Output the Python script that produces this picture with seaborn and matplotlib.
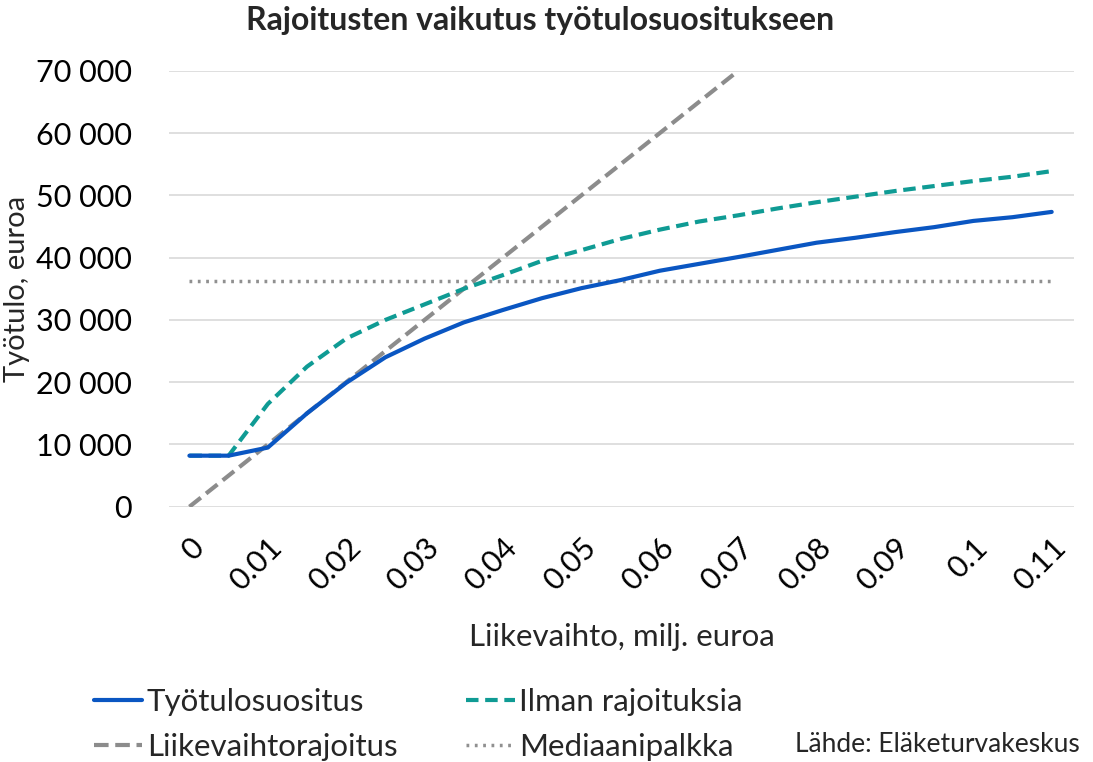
import numpy as np
import matplotlib.pyplot as plt
import matplotlib.ticker as mticker
import pandas as pd
import seaborn as sns

sns.set_theme(style='white')
plt.rcParams['font.family'] = ['Lato', 'DejaVu Sans']

# liikevaihto, milj. euroa
x = [0, 0.005, 0.01, 0.015, 0.02, 0.025, 0.03, 0.035, 0.04, 0.045, 0.05, 0.055,
     0.06, 0.065, 0.07, 0.075, 0.08, 0.085, 0.09, 0.095, 0.1, 0.105, 0.11]
tyotulosuositus = [8200, 8200, 9500, 15000, 19900, 24000, 27000, 29600, 31600, 33500,
                   35100, 36400, 37900, 39000, 40100, 41250, 42400, 43200, 44100, 44900,
                   45900, 46500, 47350]
ilman = [8200, 8200, 16500, 22500, 27000, 30000, 32500, 35000, 37200, 39500, 41200,
         43000, 44500, 45800, 46800, 47900, 48900, 49800, 50700, 51500, 52300, 53000, 53900]
x_raja = [0, 0.005, 0.01, 0.015, 0.02, 0.025, 0.03, 0.035, 0.04, 0.045, 0.05, 0.055,
          0.06, 0.065, 0.07]
liikevaihtoraja = [0, 5000, 10000, 15000, 20000, 25000, 30000, 35000, 40000, 45000,
                   50000, 55000, 60000, 65000, 70000]
mediaani = 36300
xticks = [0, 0.01, 0.02, 0.03, 0.04, 0.05, 0.06, 0.07, 0.08, 0.09, 0.1, 0.11]
xticklabels = ['0', '0.01', '0.02', '0.03', '0.04', '0.05', '0.06', '0.07', '0.08',
               '0.09', '0.1', '0.11']

fig, ax = plt.subplots(figsize=(10.93, 7.62), dpi=100)
fig.subplots_adjust(left=0.155, right=0.983, top=0.907, bottom=0.335)

sns.lineplot(x=x, y=tyotulosuositus, ax=ax, color='#0a56c2', lw=3,
             label='Työtulosuositus', zorder=4)
sns.lineplot(x=x_raja, y=liikevaihtoraja, ax=ax, color='#8c8c8c', lw=3,
             label='Liikevaihtorajoitus', zorder=3)
sns.lineplot(x=x, y=ilman, ax=ax, color='#0f9b94', lw=3,
             label='Ilman rajoituksia', zorder=3)
sns.lineplot(x=x, y=[mediaani] * len(x), ax=ax, color='#909090', lw=2.5,
             label='Mediaanipalkka', zorder=2)

lines = ax.get_lines()
lines[1].set_dashes([3.5, 1.6])
lines[2].set_dashes([3, 1.6])
lines[3].set_dashes([0.8, 1.6])

ax.set_xlim(-0.00255, 0.1129)
ax.set_ylim(0, 70000)
ax.set_yticks(range(0, 70001, 10000))
ax.yaxis.set_major_formatter(mticker.FuncFormatter(lambda v, p: f'{int(v):,}'.replace(',', ' ')))
ax.set_xticks(xticks)
ax.set_xticklabels(xticklabels, rotation=45, ha='right', rotation_mode='anchor')
ax.tick_params(axis='both', labelsize=22, length=0, colors='black')
ax.tick_params(axis='y', pad=27)
ax.tick_params(axis='x', pad=19)
ax.grid(axis='y', color='#d9d9d9', lw=1.2)
for s in ax.spines.values():
    s.set_visible(False)

ax.set_xlabel('Liikevaihto, milj. euroa', fontsize=22.5, labelpad=20)
ax.set_ylabel('Työtulo, euroa', fontsize=21, labelpad=4)
fig.suptitle('Rajoitusten vaikutus työtulosuositukseen', x=0.494, y=0.992,
             va='top', fontsize=23, fontweight='bold')

ax.legend(ncol=2, loc='lower left', bbox_to_anchor=(0.06, -0.036), bbox_transform=fig.transFigure,
          frameon=False, fontsize=22.5, handlelength=1.55, handletextpad=0.15,
          columnspacing=2.2, labelspacing=0.55)

fig.text(0.988, 0.006, 'Lähde: Eläketurvakeskus', ha='right', va='bottom', fontsize=19)

fig.savefig('out.png', dpi=100)
